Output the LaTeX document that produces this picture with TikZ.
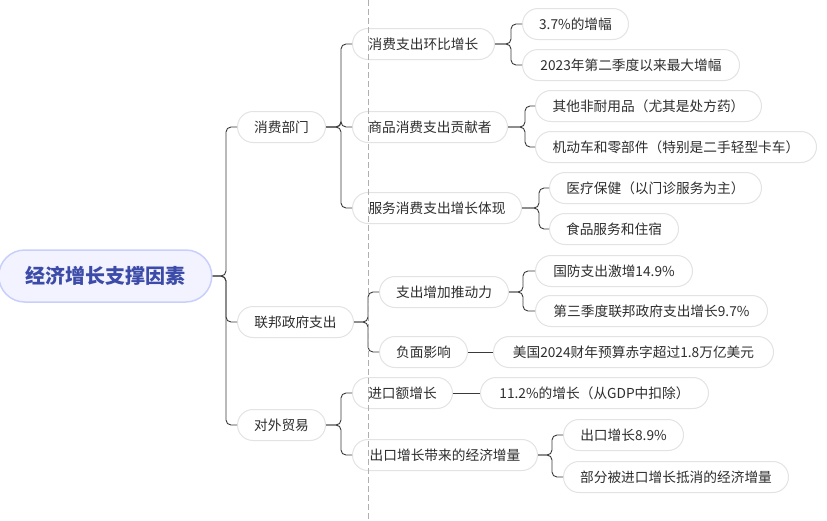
\documentclass[tikz,border=0pt]{standalone}
\usepackage{fontspec}
\setmainfont{Noto Sans CJK SC}
\definecolor{linec}{HTML}{3A3A3A}
\definecolor{boxb}{HTML}{E3E3E3}
\definecolor{txt}{HTML}{2E2E2E}
\definecolor{rootfill}{HTML}{F2F3FF}
\definecolor{rootdraw}{HTML}{C9CFFB}
\definecolor{roottxt}{HTML}{3C4BA8}
\definecolor{dashc}{HTML}{AFAFAF}
\begin{document}
\begin{tikzpicture}[x=1pt,y=-1pt,
  box/.style={draw=boxb, line width=1pt, fill=white, rounded corners=15.5pt,
    minimum height=31pt, inner sep=0pt, anchor=west, font=\fontsize{13.7}{14}\selectfont, text=txt},
  rootbox/.style={draw=rootdraw, line width=1.5pt, fill=rootfill, rounded corners=26pt,
    minimum height=52pt, inner sep=0pt, anchor=west, font=\fontsize{20}{21}\selectfont\bfseries, text=roottxt},
  edge/.style={draw=linec, line width=0.9pt, rounded corners=5pt}]
\useasboundingbox (0,0) rectangle (827,520);
% root
\node[rootbox, minimum width=213pt] (root) at (-2,276) {经济增长支撑因素};
% level 1
\node[box, minimum width=88pt] (xf) at (237,127) {消费部门};
\node[box, minimum width=116pt] (lb) at (237,322) {联邦政府支出};
\node[box, minimum width=88pt] (dw) at (237,425) {对外贸易};
% level 2
\node[box, minimum width=142pt] (hb) at (352,44) {消费支出环比增长};
\node[box, minimum width=155pt] (sp) at (352,127) {商品消费支出贡献者};
\node[box, minimum width=169pt] (fw) at (352,208) {服务消费支出增长体现};
\node[box, minimum width=129pt] (zc) at (379,292) {支出增加推动力};
\node[box, minimum width=88pt] (fm) at (379,352) {负面影响};
\node[box, minimum width=100pt] (jk) at (352,393) {进口额增长};
\node[box, minimum width=185pt] (ck) at (352,455) {出口增长带来的经济增量};
% level 3
\node[box, minimum width=106pt] (a1) at (522,24) {3.7\%的增幅};
\node[box, minimum width=217pt] (a2) at (522,65) {2023年第二季度以来最大增幅};
\node[box, minimum width=226pt] (b1) at (535,106) {其他非耐用品（尤其是处方药）};
\node[box, minimum width=281pt] (b2) at (535,147) {机动车和零部件（特别是二手轻型卡车）};
\node[box, minimum width=212pt] (c1) at (549,188) {医疗保健（以门诊服务为主）};
\node[box, minimum width=129pt] (c2) at (549,229) {食品服务和住宿};
\node[box, minimum width=157pt] (d1) at (535,271) {国防支出激增14.9\%};
\node[box, minimum width=232pt] (d2) at (535,311) {第三季度联邦政府支出增长9.7\%};
\node[box, minimum width=280pt] (e1) at (493,352) {美国2024财年预算赤字超过1.8万亿美元};
\node[box, minimum width=228pt] (f1) at (480,393) {11.2\%的增长（从GDP中扣除）};
\node[box, minimum width=120pt] (g1) at (563,435) {出口增长8.9\%};
\node[box, minimum width=225pt] (g2) at (563,477) {部分被进口增长抵消的经济增量};
% edges
\foreach \c in {xf,lb,dw} \draw[edge] (root.east) -- (226,276) |- (\c.west);
\foreach \c in {hb,sp,fw} \draw[edge] (xf.east) -- (341,127) |- (\c.west);
\foreach \c in {zc,fm} \draw[edge] (lb.east) -- (368,322) |- (\c.west);
\foreach \c in {jk,ck} \draw[edge] (dw.east) -- (341,425) |- (\c.west);
\foreach \c in {a1,a2} \draw[edge] (hb.east) -- (511,44) |- (\c.west);
\foreach \c in {b1,b2} \draw[edge] (sp.east) -- (525,127) |- (\c.west);
\foreach \c in {c1,c2} \draw[edge] (fw.east) -- (539,208) |- (\c.west);
\foreach \c in {d1,d2} \draw[edge] (zc.east) -- (523,292) |- (\c.west);
\foreach \c in {g1,g2} \draw[edge] (ck.east) -- (552,455) |- (\c.west);
\draw[edge] (fm.east) -- (e1.west);
\draw[edge] (jk.east) -- (f1.west);
% dashed guide
\coordinate (dtop) at (368,0);
\coordinate (dbot) at (368,520);
\draw[dashc, line width=0.9pt, dash pattern=on 6pt off 3pt] (dtop) -- (dbot);
\end{tikzpicture}
\end{document}
